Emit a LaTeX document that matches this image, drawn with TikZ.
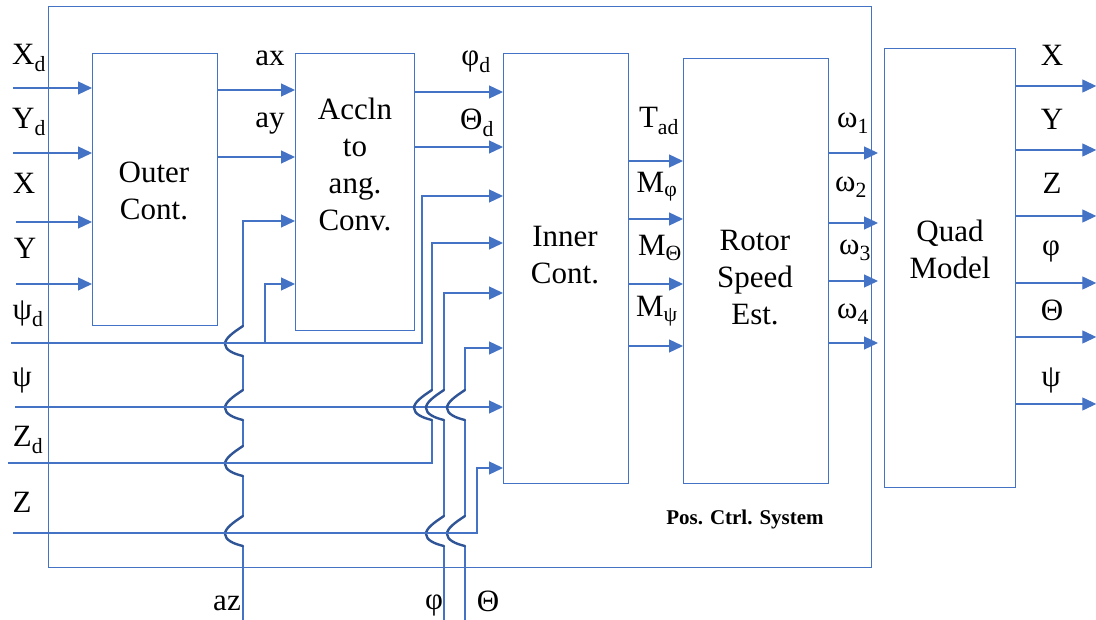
\documentclass[tikz,border=0pt]{standalone}
\usepackage{fontspec}
\setmainfont{Liberation Serif}
\usetikzlibrary{arrows.meta}
\definecolor{lineblue}{HTML}{4472C4}
\definecolor{hopblue}{HTML}{2F5597}
\newcommand{\wirehop}[2]{\draw[hopline] (#1,#2-17) .. controls (#1-9,#2-11) and (#1-18,#2-5) .. (#1-18,#2+1) .. controls (#1-18,#2+7) and (#1-9,#2+11) .. (#1,#2+13);}

\begin{document}
\begin{tikzpicture}[x=1pt,y=-1pt,
  wire/.style={draw=lineblue,line width=1.3pt},
  arr/.style={wire,-{Triangle[length=14pt,width=13pt]}},
  hopline/.style={draw=hopblue,line width=2.4pt,line cap=round},
  blk/.style={draw=lineblue,line width=1.3pt,anchor=north west,inner sep=0pt},
  lab/.style={font=\fontsize{31}{37}\selectfont,inner sep=0pt},
  boxtext/.style={lab,align=center}]
\useasboundingbox (0,0) rectangle (1096,620);

\node[blk,minimum width=823,minimum height=561] (pcs) at (48,6) {};
\node[blk,minimum width=125,minimum height=272] (outer) at (92,53) {};
\node[blk,minimum width=119,minimum height=277] (accln) at (295,53) {};
\node[blk,minimum width=125,minimum height=430] (inner) at (503,53) {};
\node[blk,minimum width=145,minimum height=425] (rotor) at (683,58) {};
\node[blk,minimum width=131,minimum height=439] (quad) at (884,48) {};

\node[boxtext] (outertxt) at (154,191) {Outer\\Cont.};
\node[boxtext] (accltxt) at (355,164) {Accln\\to\\ang.\\Conv.};
\node[boxtext] (innertxt) at (565,255) {Inner\\Cont.};
\node[boxtext] (rotortxt) at (755,278) {Rotor\\Speed\\Est.};
\node[boxtext] (quadtxt) at (950,249) {Quad\\Model};
\node[font=\bfseries\fontsize{21}{25}\selectfont,inner sep=0pt] (pcstxt) at (745,519) {Pos. Ctrl. System};

\coordinate (xd) at (13,88);
\coordinate (yd) at (13,153);
\coordinate (xx) at (16,222);
\coordinate (yy) at (16,284);
\coordinate (psid) at (11,343);
\coordinate (psi) at (15,407);
\coordinate (zd) at (8,463);
\coordinate (zz) at (13,533);
\coordinate (az) at (243,620);
\coordinate (phi) at (444,620);
\coordinate (theta) at (465,620);

\foreach \c in {xd,yd,xx,yy} \draw[arr] (\c) -- (\c -| outer.west);
\node[lab] (lxd) at (29,58) {X\textsubscript{d}};
\node[lab] (lyd) at (29,122) {Y\textsubscript{d}};
\node[lab] (lxx) at (24,183) {X};
\node[lab] (lyy) at (25,248) {Y};
\node[lab] (lpsid) at (28,314) {ψ\textsubscript{d}};
\node[lab] (lpsi) at (22,380) {ψ};
\node[lab] (lzd) at (28,440) {Z\textsubscript{d}};
\node[lab] (lzz) at (22,502) {Z};

\draw[arr] (outer.east |- 0,90) -- (accln.west |- 0,90);
\draw[arr] (outer.east |- 0,157) -- (accln.west |- 0,157);
\node[lab] (lax) at (270,58) {ax};
\node[lab] (lay) at (270,124) {ay};

\draw[arr] (accln.east |- 0,92) -- (inner.west |- 0,92);
\draw[arr] (accln.east |- 0,147) -- (inner.west |- 0,147);
\node[lab] (lphid) at (476,62) {φ\textsubscript{d}};
\node[lab] (lthd) at (477,123) {Θ\textsubscript{d}};

\draw[wire] (az) -- (243,546) (243,516) -- (243,476) (243,446) -- (243,420) (243,390) -- (243,356);
\draw[arr] (243,326) |- (accln.west |- 0,221);
\foreach \y in {343,407,463,533} {\wirehop{243}{\y}}

\draw[arr] (psid) -| (422,196) -- (inner.west |- 0,196);
\draw[arr] (265,343) |- (accln.west |- 0,284);
\draw[arr] (psi) -- (psi -| inner.west);

\draw[wire] (zd) -| (432,420);
\draw[arr] (432,390) |- (inner.west |- 0,243);
\wirehop{432}{407}

\draw[wire] (phi) -- (444,546) (444,516) -- (444,420);
\draw[arr] (444,390) |- (inner.west |- 0,293);
\wirehop{444}{407} \wirehop{444}{533}

\draw[wire] (theta) -- (465,546) (465,516) -- (465,420);
\draw[arr] (465,390) |- (inner.west |- 0,348);
\wirehop{465}{407} \wirehop{465}{533}

\draw[arr] (zz) -| (477,468) -- (inner.west |- 0,468);

\node[lab] (laz) at (227,603) {az};
\node[lab] (lphi) at (434,605) {φ};
\node[lab] (ltheta) at (488,601) {Θ};

\foreach \y in {161,219,284,346} {\draw[arr] (inner.east |- 0,\y) -- (rotor.west |- 0,\y);}
\node[lab] (ltad) at (659,121) {T\textsubscript{ad}};
\node[lab] (lmphi) at (657,187) {M\textsubscript{φ}};
\node[lab] (lmth) at (660,248) {M\textsubscript{Θ}};
\node[lab] (lmpsi) at (657,311) {M\textsubscript{ψ}};

\foreach \y in {153,223,281,343} {\draw[arr,shorten >=6pt] (rotor.east |- 0,\y) -- (quad.west |- 0,\y);}
\node[lab] (lw1) at (853,123) {ω\textsubscript{1}};
\node[lab] (lw2) at (851,187) {ω\textsubscript{2}};
\node[lab] (lw3) at (855,250) {ω\textsubscript{3}};
\node[lab] (lw4) at (853,314) {ω\textsubscript{4}};

\foreach \y in {86,150,216,283,337,404} {\draw[arr] (quad.east |- 0,\y) -- ++(80,0);}
\node[lab] (lox) at (1052,55) {X};
\node[lab] (loy) at (1052,119) {Y};
\node[lab] (loz) at (1052,183) {Z};
\node[lab] (lophi) at (1051,251) {φ};
\node[lab] (loth) at (1052,310) {Θ};
\node[lab] (lopsi) at (1051,380) {ψ};
\end{tikzpicture}
\end{document}
